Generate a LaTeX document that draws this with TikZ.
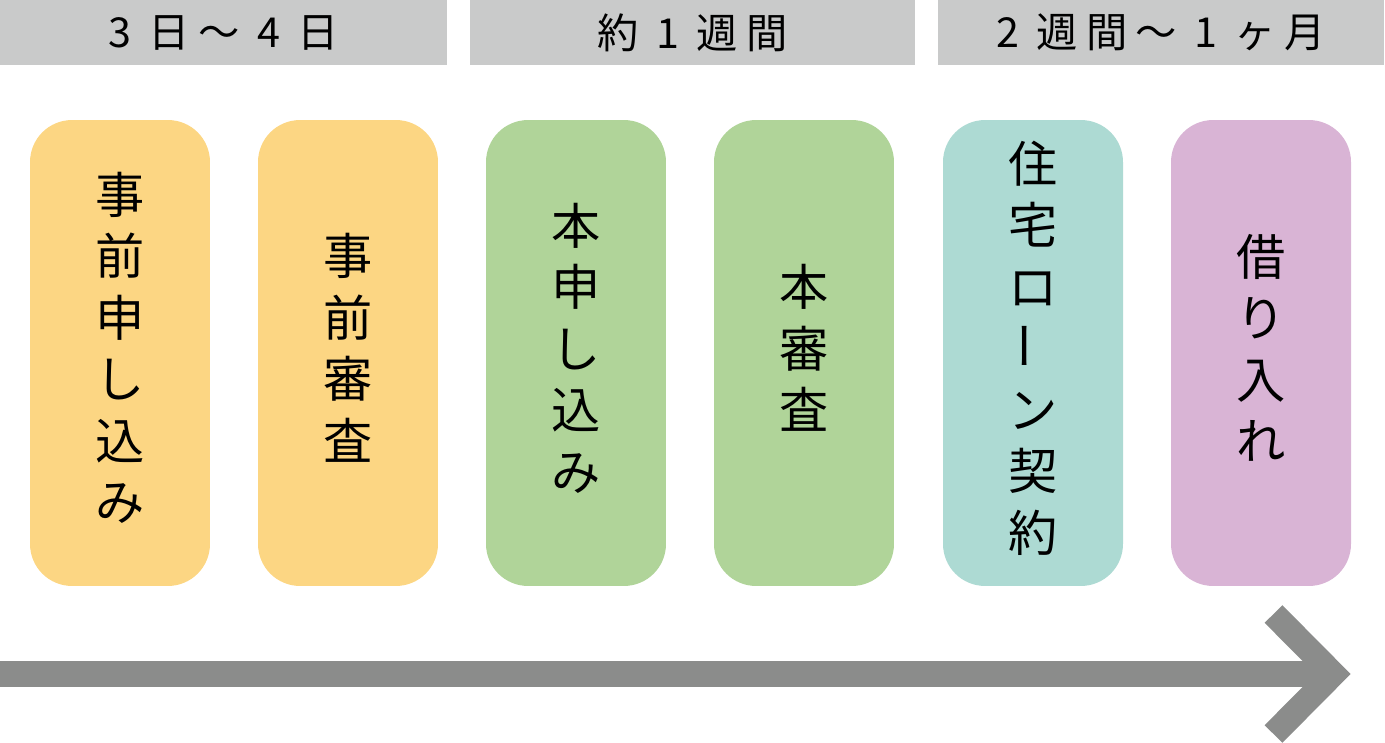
\documentclass[tikz,border=0pt]{standalone}
\usepackage{fontspec}
\setmainfont{Noto Sans CJK JP}
\definecolor{barGray}{HTML}{C9CACA}
\definecolor{arrowGray}{HTML}{8B8C8B}
\definecolor{stageOrange}{HTML}{FCD683}
\definecolor{stageGreen}{HTML}{B0D499}
\definecolor{stageTeal}{HTML}{ADDAD3}
\definecolor{stagePurple}{HTML}{D9B4D5}
\newcommand{\headfont}{\fontsize{23.5}{28}\selectfont\addfontfeature{LetterSpace=20}}
\newcommand{\stagefont}{\fontsize{28}{35}\selectfont}
\newcommand{\vbar}{\raisebox{0.2em}{\rotatebox[origin=c]{90}{ー}}}
\tikzset{
  period/.style={fill=barGray, inner sep=0pt, minimum height=1.3cm, font=\headfont},
  stage/.style={rounded corners=0.84cm, minimum width=3.6cm, minimum height=9.32cm, inner sep=0pt},
  stagetext/.style={align=center, inner sep=0pt, font=\stagefont},
  timeline/.style={draw=arrowGray, line width=0.52cm},
}
\begin{document}
\begin{tikzpicture}[x=0.02cm,y=-0.02cm]
	\useasboundingbox (0,0) rectangle (1385,743);
	% periods
	\node[period, minimum width=8.94cm] (p1) at (223.5,32.5) {3 日～ 4 日};
	\node[period, minimum width=8.90cm] (p2) at (692.5,32.5) {約 1 週間};
	\node[period, minimum width=8.92cm] (p3) at (1161,32.5) {2 週間～ 1 ヶ月};
	% stages
	\node[stage, fill=stageOrange] (s1) at (120,353) {};
	\node[stage, fill=stageOrange] (s2) at (348,353) {};
	\node[stage, fill=stageGreen] (s3) at (576,353) {};
	\node[stage, fill=stageGreen] (s4) at (804,353) {};
	\node[stage, fill=stageTeal] (s5) at (1033,353) {};
	\node[stage, fill=stagePurple] (s6) at (1261,353) {};
	\node[stagetext] (t1) at (120,348) {事\\前\\申\\し\\込\\み};
	\node[stagetext] (t2) at (348,348) {事\\前\\審\\査};
	\node[stagetext] (t3) at (576,348) {本\\申\\し\\込\\み};
	\node[stagetext] (t4) at (804,348) {本\\審\\査};
	\node[stagetext] (t5) at (1033,348) {住\\宅\\ロ\\\vbar\\ン\\契\\約};
	\node[stagetext] (t6) at (1261,348) {借\\り\\入\\れ};
	% time arrow
	\coordinate (tstart) at (0,674);
	\coordinate (tend) at (1320,674);
	\coordinate (tup) at (1273.5,614);
	\coordinate (ttip) at (1333,674);
	\coordinate (tdown) at (1273.5,734);
	\draw[timeline] (tstart) -- (tend);
	\draw[timeline, line width=0.5cm, miter limit=4] (tup) -- (ttip) -- (tdown);
\end{tikzpicture}
\end{document}
